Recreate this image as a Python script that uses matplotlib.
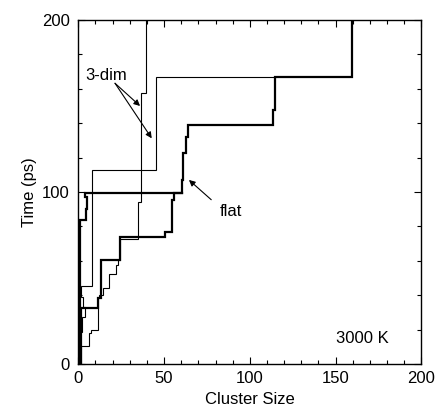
import numpy as np
import matplotlib
matplotlib.use('Agg')
import matplotlib.pyplot as plt
from matplotlib.ticker import MultipleLocator

plt.rcParams['font.family'] = ['Liberation Sans', 'DejaVu Sans']
plt.rcParams['font.size'] = 12

# cada serie: tiempos (ps) donde cambia el tamaño del cluster y el tamaño desde ese tiempo
# si hay un tiempo mas que tamaños, el ultimo tiempo es el final de la curva
# si hay igual cantidad, el ultimo tamaño es el salto final (cuando se une con otro cluster)
flat1_t = [0, 83.7, 90, 97, 99.2, 107, 122.6, 132, 139, 147.7, 167, 205]
flat1_s = [1.0, 4.5, 5.3, 3.9, 60.3, 61.0, 62.5, 63.7, 113.7, 114.7, 159.7]

flat2_t = [0, 32.5, 38.5, 60.2, 73.7, 77.0, 95.3, 99.2]
flat2_s = [1.6, 11.5, 13.4, 24.5, 50.6, 54.5, 56.0, 60.3]

dim1_t = [0, 10.7, 17.8, 19.8, 38.6, 40.1, 44, 52.2, 57.6, 60.5, 72.8, 94.4, 157.4, 205]
dim1_s = [1.5, 6.4, 7.4, 11.3, 12.3, 14.2, 18.1, 22.0, 23.0, 24.5, 35.0, 36.6, 39.6]

dim2_t = [0, 18.8, 27.5, 33, 39, 45.5, 112.8, 167]
dim2_s = [1.2, 2.0, 3.9, 2.9, 1.8, 7.8, 45.5, 114.7]


def escalera(tiempos, tamanos):
    # arma los vertices de la escalera: tamaño constante entre dos tiempos
    t = np.array(tiempos, dtype=float)
    s = np.array(tamanos, dtype=float)
    n = len(s)
    if len(t) == n + 1:
        ys = np.repeat(t, 2)[1:-1]
        xs = np.repeat(s, 2)
    else:
        ys = np.repeat(t, 2)[1:]
        xs = np.append(np.repeat(s[:-1], 2), s[-1])
    return xs, ys


fig = plt.figure(figsize=(4.37, 4.16), dpi=100)
ax = fig.add_axes([0.1792, 0.125, 0.785, 0.827])

for t, s, ancho in [(dim1_t, dim1_s, 0.8), (dim2_t, dim2_s, 0.8),
                    (flat2_t, flat2_s, 1.6), (flat1_t, flat1_s, 1.6)]:
    xs, ys = escalera(t, s)
    ax.plot(xs, ys, color='black', lw=ancho, solid_joinstyle='miter')

ax.set_xlim(0, 200)
ax.set_ylim(0, 200)
ax.xaxis.set_major_locator(MultipleLocator(50))
ax.xaxis.set_minor_locator(MultipleLocator(10))
ax.yaxis.set_major_locator(MultipleLocator(100))
ax.yaxis.set_minor_locator(MultipleLocator(20))
ax.tick_params(which='both', direction='in', top=True, right=True, width=0.8)
ax.tick_params(which='major', length=5)
ax.tick_params(which='minor', length=3)
ax.tick_params(axis='y', pad=6)
ax.tick_params(axis='x', pad=5)
for lado in ax.spines.values():
    lado.set_linewidth(1.0)

ax.set_xlabel('Cluster Size')
ax.set_ylabel('Time (ps)')

flecha = dict(arrowstyle='-|>', color='black', lw=0.8, mutation_scale=9, shrinkA=0, shrinkB=0)
ax.text(16, 168, '3-dim', ha='center', va='center')
ax.annotate('', xy=(36, 150), xytext=(21.4, 163.2), arrowprops=flecha)
ax.annotate('', xy=(42.8, 131.2), xytext=(21.4, 163.2), arrowprops=flecha)
ax.text(89, 88.4, 'flat', ha='center', va='center')
ax.annotate('', xy=(64.5, 107), xytext=(77.5, 95.5), arrowprops=flecha)
ax.text(181, 14.8, '3000 K', ha='right', va='center')

fig.savefig('out.png', dpi=100)
